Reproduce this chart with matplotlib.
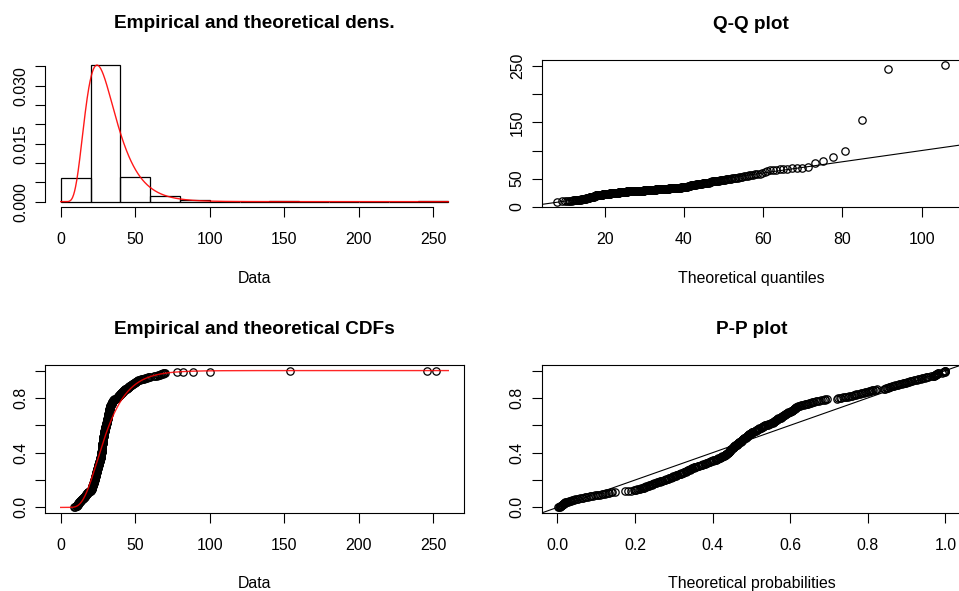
import numpy as np
import pandas as pd
import matplotlib
matplotlib.use("Agg")
import matplotlib.pyplot as plt
from statistics import NormalDist

plt.rcParams['font.family'] = ['Liberation Sans', 'DejaVu Sans']

# Observed sample (sorted)
sample = [
    9.0, 9.6, 10.1, 10.3, 10.6, 10.8, 11.0, 11.2, 11.3, 11.5, 11.6, 11.8, 11.9, 12.0, 12.2, 12.3, 12.5,
    12.7, 12.9, 13.1, 13.3, 13.5, 13.7, 13.9, 14.1, 14.3, 14.5, 14.7, 15.0, 15.2,
    15.4, 15.6, 15.8, 16.0, 16.2, 16.4, 16.6, 16.8, 17.0,
    17.1, 17.3, 17.5, 17.6, 17.8, 17.9, 18.1, 18.2, 18.4, 18.5, 18.7, 19.6, 19.8,
    20.1, 20.3, 20.4, 20.5, 20.6, 20.7, 20.8, 20.9, 21.0,
    21.0, 21.1, 21.1, 21.2, 21.3, 21.3, 21.4, 21.5, 21.5, 21.6, 21.7, 21.7, 21.8, 21.8, 21.9,
    22.0, 22.0, 22.1, 22.2, 22.3, 22.3, 22.4, 22.5, 22.5, 22.6, 22.7, 22.7, 22.8,
    22.9, 22.9, 23.0, 23.0, 23.1, 23.2, 23.2, 23.3, 23.3, 23.4, 23.5, 23.5, 23.6, 23.6, 23.7,
    23.8, 23.8, 23.9, 23.9, 24.0, 24.0, 24.1, 24.1, 24.2, 24.2, 24.3, 24.3,
    24.4, 24.4, 24.5, 24.5, 24.6, 24.6, 24.7, 24.7, 24.8, 24.8, 24.9, 24.9,
    25.0, 25.1, 25.1, 25.2, 25.3, 25.4, 25.4, 25.5, 25.6, 25.6, 25.7, 25.8, 25.8, 25.9, 25.9, 26.0, 26.1, 26.1,
    26.2, 26.2, 26.3, 26.4, 26.4, 26.5, 26.5, 26.6, 26.6, 26.7, 26.7, 26.8, 26.8, 26.9, 26.9, 27.0, 27.0, 27.1, 27.1,
    27.2, 27.2, 27.2, 27.2, 27.3, 27.3, 27.3, 27.3, 27.4, 27.4, 27.4, 27.4, 27.5, 27.5, 27.5, 27.5,
    27.6, 27.6, 27.6, 27.6, 27.7, 27.7, 27.7, 27.7, 27.8, 27.8, 27.8, 27.8, 27.9, 27.9, 27.9,
    28.0, 28.0, 28.0, 28.0, 28.1, 28.1, 28.1, 28.2, 28.2, 28.2, 28.3, 28.3, 28.3,
    28.4, 28.4, 28.4, 28.4, 28.5, 28.5, 28.5, 28.6, 28.6, 28.6, 28.7, 28.7, 28.7,
    28.8, 28.8, 28.8, 28.9, 28.9, 28.9, 29.0, 29.0, 29.0, 29.1, 29.1, 29.1,
    29.2, 29.2, 29.2, 29.3, 29.3, 29.4, 29.4, 29.5, 29.5,
    29.6, 29.6, 29.7, 29.7, 29.8, 29.8, 29.9, 29.9, 30.0, 30.0, 30.1, 30.1,
    30.2, 30.2, 30.3, 30.3, 30.4, 30.5, 30.5, 30.6, 30.7,
    30.8, 30.8, 30.9, 30.9, 31.0, 31.0, 31.0, 31.1, 31.1, 31.2, 31.2, 31.3, 31.3, 31.3,
    31.4, 31.4, 31.5, 31.5, 31.6, 31.6, 31.6, 31.7, 31.7, 31.8, 31.8, 31.9, 31.9,
    32.0, 32.0, 32.1, 32.1, 32.2, 32.2, 32.3, 32.3, 32.4, 32.4, 32.5, 32.5, 32.6, 32.6,
    32.7, 32.7, 32.7, 32.8, 32.8, 32.9, 32.9, 32.9, 33.0, 33.0, 33.1, 33.1,
    33.2, 33.3, 33.4, 33.5, 33.6, 33.8, 33.9, 34.0, 34.1, 34.2, 34.3, 34.4, 34.5, 34.6, 34.7, 34.8, 35.0, 35.1,
    35.3, 35.5, 35.7, 35.9, 36.0, 36.2,
    37.3, 37.5, 37.7, 37.9, 38.1, 38.3, 38.5, 38.7, 38.9, 39.1, 39.3, 39.5, 39.6, 39.8, 39.9,
    40.2, 40.4, 40.6, 40.8, 41.0, 41.2, 41.4, 41.6, 41.8, 42.0, 42.2, 42.4, 42.6, 42.8, 43.0, 43.3,
    44.6, 44.8, 45.0, 45.2, 45.4, 45.6, 45.8, 45.9,
    46.2, 46.5, 46.8, 47.1, 47.4, 47.8, 48.1, 48.4, 48.7, 49.0, 49.4, 49.7, 50.0, 50.3, 50.6, 50.9, 51.2, 51.5,
    52.0, 52.6, 53.2, 53.8, 54.4, 55.0, 55.6, 56.3, 57.0, 57.7, 58.4, 59.1, 59.9,
    62.5, 63.5, 64.5, 65.3, 65.8, 66.4, 67.0, 67.6, 68.3, 68.8, 69.4, 70.2,
    78, 82, 89, 100, 154, 246, 252,
]

# Fitted lognormal parameters
meanlog = 3.3725
sdlog = 0.424

hist_breaks = list(range(0, 261, 20))
data_range = (0, 260)
data_xticks = [0, 50, 100, 150, 200, 250]
dens_yticks = [0.0, 0.005, 0.010, 0.015, 0.020, 0.025, 0.030, 0.035]
dens_ylabels = ['0.000', '', '', '0.015', '', '', '0.030', '']
prob_ticks = [0.0, 0.2, 0.4, 0.6, 0.8, 1.0]
prob_labels = ['0.0', '', '0.4', '', '0.8', '']
qq_xticks = [20, 40, 60, 80, 100]
qq_yticks = [0, 50, 100, 150, 200, 250]
qq_ylabels = ['0', '50', '', '150', '', '250']
pp_xlabels = ['0.0', '0.2', '0.4', '0.6', '0.8', '1.0']

titles = ['Empirical and theoretical dens.', 'Q-Q plot',
          'Empirical and theoretical CDFs', 'P-P plot']
xlabels = ['Data', 'Theoretical quantiles', 'Data', 'Theoretical probabilities']

# ---- distribution helpers ----
std = NormalDist()
x = np.sort(np.asarray(sample, dtype=float))
n = len(x)


def lnorm_pdf(v):
    v = np.asarray(v, dtype=float)
    out = np.zeros_like(v)
    pos = v > 0
    lv = np.log(v[pos])
    out[pos] = np.exp(-(lv - meanlog) ** 2 / (2 * sdlog ** 2)) / (v[pos] * sdlog * np.sqrt(2 * np.pi))
    return out


def lnorm_cdf(v):
    v = np.asarray(v, dtype=float)
    out = np.zeros_like(v)
    pos = v > 0
    out[pos] = [std.cdf((np.log(t) - meanlog) / sdlog) for t in v[pos]]
    return out


def lnorm_ppf(p):
    return np.array([np.exp(meanlog + sdlog * std.inv_cdf(q)) for q in p])


def expand(lo, hi, f=0.04):
    d = (hi - lo) * f
    return lo - d, hi + d


# ---- figure ----
W, H = 959, 591
fig = plt.figure(figsize=(W / 100, H / 100), dpi=100)


def px_axes(left, top, right, bottom):
    return fig.add_axes([left / W, 1 - bottom / H, (right - left) / W, (bottom - top) / H])


ax_d = px_axes(45.2, 59.5, 463.8, 207.1)
ax_q = px_axes(541.8, 59.7, 961.0, 207.1)
ax_c = px_axes(45.2, 365.1, 463.8, 512.9)
ax_p = px_axes(541.8, 365.1, 961.0, 512.9)

LW = 0.8
FS = 11.4


def decorate(ax, title, xlabel):
    for s in ax.spines.values():
        s.set_linewidth(LW)
        s.set_color('black')
    ax.tick_params(direction='out', length=7.2, width=LW, labelsize=FS, colors='black')
    ax.tick_params(axis='x', pad=11.0)
    ax.tick_params(axis='y', pad=5.0)
    for lab in ax.get_yticklabels():
        lab.set_rotation(90)
        lab.set_va('center')
        lab.set_ha('right')
    ax.annotate(title, xy=(0.5, 1), xycoords='axes fraction', xytext=(0, 22.4),
                textcoords='offset points', ha='center', va='baseline',
                fontsize=13.7, fontweight='bold')
    ax.annotate(xlabel, xy=(0.5, 0), xycoords='axes fraction', xytext=(0, -54.3),
                textcoords='offset points', ha='center', va='baseline', fontsize=FS)


# Density panel: histogram (right-closed bins) with fitted density
bins = pd.cut(x, hist_breaks, right=True, include_lowest=True)
counts = pd.Series(bins).value_counts(sort=False).to_numpy()
widths = np.diff(hist_breaks)
dens = counts / (n * widths)
ax_d.bar(hist_breaks[:-1], dens, width=widths, align='edge', fill=False,
         edgecolor='black', linewidth=0.9)
grid = np.linspace(data_range[0], data_range[1], 1201)
pdf = lnorm_pdf(grid)
ax_d.plot(grid, pdf, color='red', lw=1.0, alpha=0.9)
ax_d.set_xlim(*expand(*data_range))
ax_d.set_ylim(*expand(0, max(dens.max(), pdf.max())))
ax_d.set_xticks(data_xticks)
ax_d.set_yticks(dens_yticks)
ax_d.set_yticklabels(dens_ylabels)
ax_d.spines['top'].set_visible(False)
ax_d.spines['right'].set_visible(False)
ax_d.spines['bottom'].set_bounds(data_xticks[0], data_xticks[-1])
ax_d.spines['left'].set_bounds(dens_yticks[0], dens_yticks[-1])
decorate(ax_d, titles[0], xlabels[0])

marker = dict(marker='o', linestyle='none', markersize=5.3, markerfacecolor='none',
              markeredgecolor='black', markeredgewidth=0.9)

# Q-Q panel
pp = (np.arange(1, n + 1) - 0.5) / n
theo_q = lnorm_ppf(pp)
ax_q.plot(theo_q, x, **marker)
ax_q.axline((0, 0), slope=1, color='black', lw=LW)
ax_q.set_xlim(*expand(theo_q.min(), theo_q.max()))
ax_q.set_ylim(*expand(x.min(), x.max()))
ax_q.set_xticks(qq_xticks)
ax_q.set_yticks(qq_yticks)
ax_q.set_yticklabels(qq_ylabels)
decorate(ax_q, titles[1], xlabels[1])

# CDF panel
ecdf = np.arange(1, n + 1) / n
ax_c.plot(x, ecdf, **marker)
cdf = lnorm_cdf(grid)
ax_c.plot(grid, cdf, color='red', lw=1.0, alpha=0.85, zorder=3)
ax_c.set_xlim(*expand(*data_range))
ax_c.set_ylim(*expand(0, 1))
ax_c.set_xticks(data_xticks)
ax_c.set_yticks(prob_ticks)
ax_c.set_yticklabels(prob_labels)
decorate(ax_c, titles[2], xlabels[2])

# P-P panel
theo_p = lnorm_cdf(x)
ax_p.plot(theo_p, pp, **marker)
ax_p.axline((0, 0), slope=1, color='black', lw=LW)
ax_p.set_xlim(*expand(0, 1))
ax_p.set_ylim(*expand(0, 1))
ax_p.set_xticks(prob_ticks)
ax_p.set_xticklabels(pp_xlabels)
ax_p.set_yticks(prob_ticks)
ax_p.set_yticklabels(prob_labels)
decorate(ax_p, titles[3], xlabels[3])

fig.savefig('out.png', dpi=100)
